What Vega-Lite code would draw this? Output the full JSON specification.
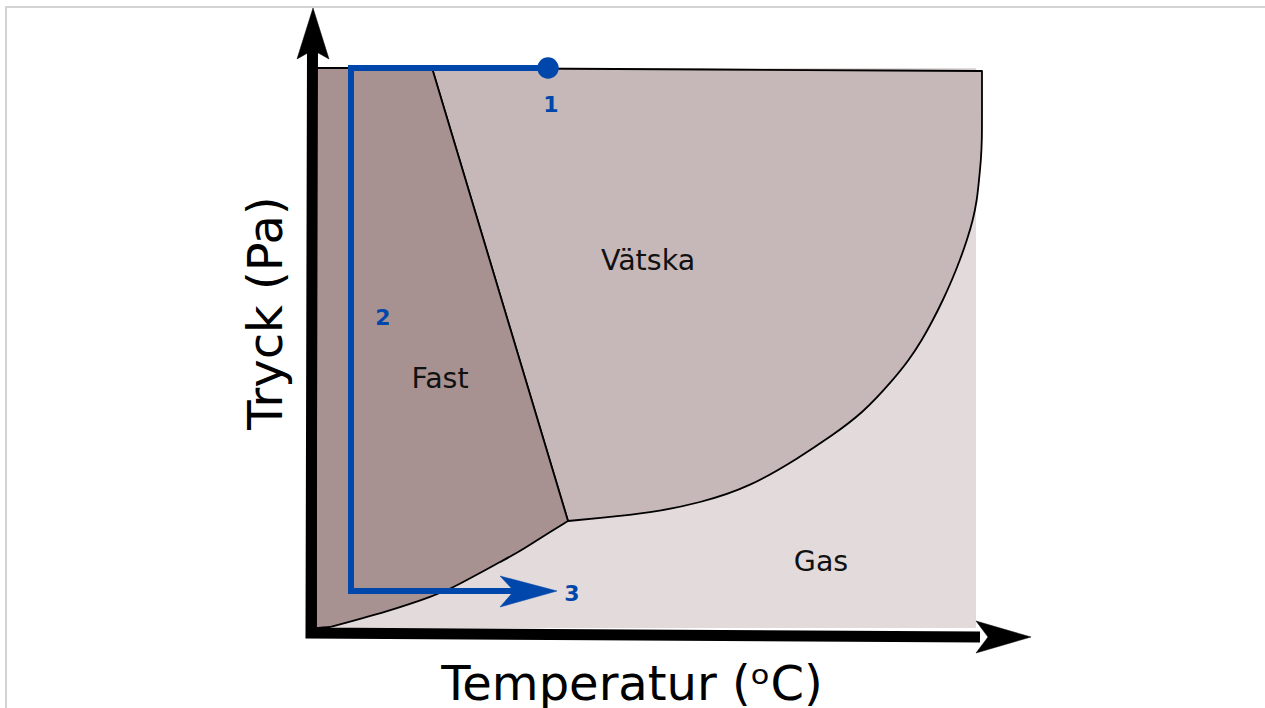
{
  "$schema": "https://vega.github.io/schema/vega-lite/v6.json",
  "width": 1265,
  "height": 708,
  "autosize": {"type": "none"},
  "padding": 0,
  "background": "white",
  "config": {"view": {"stroke": null}},
  "datasets": {
    "frame": [
      {"i": 0, "x": 6, "y": 708},
      {"i": 1, "x": 6, "y": 7},
      {"i": 2, "x": 1265, "y": 7}
    ],
    "gas": [
      {"x": 316, "x2": 976, "y": 68, "y2": 628}
    ],
    "liquid": [
      {"i": 0, "x": 432, "y": 68},
      {"i": 1, "x": 432, "y": 68},
      {"i": 2, "x": 432, "y": 68},
      {"i": 3, "x": 982, "y": 71},
      {"i": 4, "x": 982, "y": 71},
      {"i": 5, "x": 982, "y": 71},
      {"i": 6, "x": 982, "y": 110},
      {"i": 7, "x": 982, "y": 140},
      {"i": 8, "x": 981, "y": 160},
      {"i": 9, "x": 979, "y": 180},
      {"i": 10, "x": 977, "y": 200},
      {"i": 11, "x": 973, "y": 220},
      {"i": 12, "x": 967, "y": 240},
      {"i": 13, "x": 960, "y": 260},
      {"i": 14, "x": 952, "y": 280},
      {"i": 15, "x": 943, "y": 300},
      {"i": 16, "x": 933, "y": 320},
      {"i": 17, "x": 922, "y": 340},
      {"i": 18, "x": 909, "y": 360},
      {"i": 19, "x": 893, "y": 380},
      {"i": 20, "x": 863, "y": 413},
      {"i": 21, "x": 830, "y": 437},
      {"i": 22, "x": 800, "y": 457},
      {"i": 23, "x": 750, "y": 487},
      {"i": 24, "x": 700, "y": 503},
      {"i": 25, "x": 650, "y": 513},
      {"i": 26, "x": 600, "y": 518},
      {"i": 27, "x": 568, "y": 521},
      {"i": 28, "x": 568, "y": 521},
      {"i": 29, "x": 568, "y": 521},
      {"i": 30, "x": 432, "y": 68},
      {"i": 31, "x": 432, "y": 68},
      {"i": 32, "x": 432, "y": 68}
    ],
    "solid": [
      {"i": 0, "x": 316, "y": 68},
      {"i": 1, "x": 316, "y": 68},
      {"i": 2, "x": 316, "y": 68},
      {"i": 3, "x": 432, "y": 68},
      {"i": 4, "x": 432, "y": 68},
      {"i": 5, "x": 432, "y": 68},
      {"i": 6, "x": 568, "y": 521},
      {"i": 7, "x": 568, "y": 521},
      {"i": 8, "x": 568, "y": 521},
      {"i": 9, "x": 550, "y": 532},
      {"i": 10, "x": 533, "y": 543},
      {"i": 11, "x": 517, "y": 553},
      {"i": 12, "x": 500, "y": 562},
      {"i": 13, "x": 480, "y": 573},
      {"i": 14, "x": 465, "y": 581},
      {"i": 15, "x": 450, "y": 589},
      {"i": 16, "x": 430, "y": 597},
      {"i": 17, "x": 410, "y": 604},
      {"i": 18, "x": 385, "y": 612},
      {"i": 19, "x": 363, "y": 618},
      {"i": 20, "x": 345, "y": 623},
      {"i": 21, "x": 330, "y": 627},
      {"i": 22, "x": 330, "y": 627},
      {"i": 23, "x": 330, "y": 627},
      {"i": 24, "x": 316, "y": 628},
      {"i": 25, "x": 316, "y": 628},
      {"i": 26, "x": 316, "y": 628},
      {"i": 27, "x": 316, "y": 68},
      {"i": 28, "x": 316, "y": 68},
      {"i": 29, "x": 316, "y": 68}
    ],
    "axes": [
      {"i": 0, "x": 312.5, "y": 50},
      {"i": 1, "x": 311, "y": 633},
      {"i": 2, "x": 980, "y": 637}
    ],
    "yhead": [
      {"i": 0, "x": 313, "y": 8},
      {"i": 1, "x": 329, "y": 59},
      {"i": 2, "x": 313, "y": 50},
      {"i": 3, "x": 297, "y": 59},
      {"i": 4, "x": 313, "y": 8}
    ],
    "xhead": [
      {"i": 0, "x": 1031, "y": 637},
      {"i": 1, "x": 976, "y": 653},
      {"i": 2, "x": 988, "y": 637},
      {"i": 3, "x": 976, "y": 621},
      {"i": 4, "x": 1031, "y": 637}
    ],
    "path": [
      {"i": 0, "x": 548, "y": 68},
      {"i": 1, "x": 351, "y": 68},
      {"i": 2, "x": 351, "y": 591},
      {"i": 3, "x": 520, "y": 591}
    ],
    "phead": [
      {"i": 0, "x": 557, "y": 591},
      {"i": 1, "x": 500, "y": 576},
      {"i": 2, "x": 514, "y": 591},
      {"i": 3, "x": 500, "y": 607},
      {"i": 4, "x": 557, "y": 591}
    ],
    "dot": [
      {"x": 548, "y": 68}
    ],
    "regions": [
      {"label": "Vätska", "x": 648, "y": 270},
      {"label": "Fast", "x": 440, "y": 388},
      {"label": "Gas", "x": 821, "y": 571}
    ],
    "steps": [
      {"label": "1", "x": 551, "y": 112},
      {"label": "2", "x": 383, "y": 325},
      {"label": "3", "x": 572, "y": 601}
    ],
    "xtitle": [
      {"label": "Temperatur (ᵒC)", "x": 632, "y": 700}
    ],
    "ytitle": [
      {"label": "Tryck (Pa)", "x": 282, "y": 313}
    ]
  },
  "encoding": {
    "x": {"field": "x", "type": "quantitative", "scale": {"domain": [0, 1265], "nice": false, "zero": false}, "axis": null},
    "y": {"field": "y", "type": "quantitative", "scale": {"domain": [0, 708], "nice": false, "zero": false, "reverse": true}, "axis": null}
  },
  "layer": [
    {
      "data": {"name": "frame"},
      "mark": {"type": "line", "stroke": "#d3d3d3", "strokeWidth": 2},
      "encoding": {"order": {"field": "i", "type": "quantitative"}}
    },
    {
      "data": {"name": "gas"},
      "mark": {"type": "rect", "fill": "#e2dadb"},
      "encoding": {"x2": {"field": "x2"}, "y2": {"field": "y2"}}
    },
    {
      "data": {"name": "liquid"},
      "mark": {"type": "line", "interpolate": "basis", "fill": "#c6b8b8", "stroke": "#000000", "strokeWidth": 1.8, "strokeJoin": "round"},
      "encoding": {"order": {"field": "i", "type": "quantitative"}}
    },
    {
      "data": {"name": "solid"},
      "mark": {"type": "line", "interpolate": "basis", "fill": "#a89191", "stroke": "#000000", "strokeWidth": 1.8, "strokeJoin": "round"},
      "encoding": {"order": {"field": "i", "type": "quantitative"}}
    },
    {
      "data": {"name": "axes"},
      "mark": {"type": "line", "stroke": "#000000", "strokeWidth": 11, "strokeJoin": "miter", "strokeCap": "butt"},
      "encoding": {"order": {"field": "i", "type": "quantitative"}}
    },
    {
      "data": {"name": "yhead"},
      "mark": {"type": "line", "fill": "#000000", "stroke": "#000000", "strokeWidth": 0.5},
      "encoding": {"order": {"field": "i", "type": "quantitative"}}
    },
    {
      "data": {"name": "xhead"},
      "mark": {"type": "line", "fill": "#000000", "stroke": "#000000", "strokeWidth": 0.5},
      "encoding": {"order": {"field": "i", "type": "quantitative"}}
    },
    {
      "data": {"name": "path"},
      "mark": {"type": "line", "stroke": "#0047ab", "strokeWidth": 6, "strokeJoin": "miter", "strokeCap": "butt"},
      "encoding": {"order": {"field": "i", "type": "quantitative"}}
    },
    {
      "data": {"name": "phead"},
      "mark": {"type": "line", "fill": "#0047ab", "stroke": "#0047ab", "strokeWidth": 0.5},
      "encoding": {"order": {"field": "i", "type": "quantitative"}}
    },
    {
      "data": {"name": "dot"},
      "mark": {"type": "point", "shape": "circle", "filled": true, "size": 460, "color": "#0047ab", "opacity": 1}
    },
    {
      "data": {"name": "regions"},
      "mark": {"type": "text", "font": "DejaVu Sans", "fontSize": 28.5, "color": "#111111", "align": "center", "baseline": "alphabetic"},
      "encoding": {"text": {"field": "label"}}
    },
    {
      "data": {"name": "steps"},
      "mark": {"type": "text", "font": "DejaVu Sans", "fontSize": 22, "fontWeight": "bold", "color": "#0047ab", "align": "center", "baseline": "alphabetic"},
      "encoding": {"text": {"field": "label"}}
    },
    {
      "data": {"name": "xtitle"},
      "mark": {"type": "text", "font": "DejaVu Sans", "fontSize": 48, "color": "#000000", "align": "center", "baseline": "alphabetic"},
      "encoding": {"text": {"field": "label"}}
    },
    {
      "data": {"name": "ytitle"},
      "mark": {"type": "text", "font": "DejaVu Sans", "fontSize": 48, "color": "#000000", "align": "center", "baseline": "alphabetic", "angle": 270},
      "encoding": {"text": {"field": "label"}}
    }
  ]
}
